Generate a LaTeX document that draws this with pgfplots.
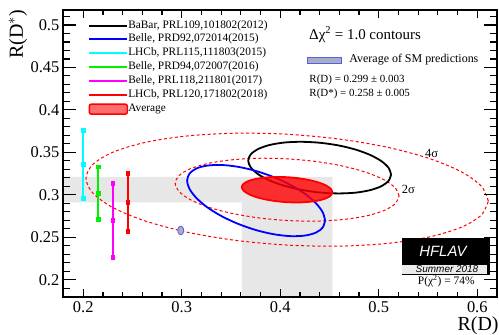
\documentclass[border=0pt]{standalone}
\usepackage{fontspec}
\setmainfont{Liberation Serif}
\newfontfamily\hfsans{Liberation Sans}
\usepackage{pgfplots}
\pgfplotsset{compat=1.18}

\definecolor{bandgray}{gray}{0.905}
\definecolor{smfill}{RGB}{165,175,195}
\definecolor{smdraw}{RGB}{90,90,235}
\definecolor{mygreen}{RGB}{0,240,0}
\definecolor{mycyan}{RGB}{0,255,255}
\definecolor{mymagenta}{RGB}{255,0,255}
\definecolor{myred}{RGB}{255,0,0}
\definecolor{myblue}{RGB}{0,0,255}
\definecolor{avgleg}{RGB}{255,110,110}
\definecolor{logogray}{gray}{0.92}

\begin{document}
\begin{tikzpicture}
\useasboundingbox (-63.5bp,-38.3bp) rectangle (435.5bp,296.7bp);
\begin{axis}[
  at={(0,0)}, anchor=south west,
  scale only axis, width=433.5bp, height=286.7bp,
  xmin=0.18, xmax=0.62, ymin=0.18, ymax=0.5176,
  axis on top,
  xtick={0.2,0.3,0.4,0.5,0.6},
  ytick={0.2,0.25,0.3,0.35,0.4,0.45,0.5},
  minor xtick={0.22,0.24,0.26,0.28,0.32,0.34,0.36,0.38,0.42,0.44,0.46,0.48,0.52,0.54,0.56,0.58},
  minor ytick={0.19,0.21,0.22,0.23,0.24,0.26,0.27,0.28,0.29,0.31,0.32,0.33,0.34,0.36,0.37,0.38,0.39,0.41,0.42,0.43,0.44,0.46,0.47,0.48,0.49,0.51},
  axis line style={line width=2bp},
  tick style={line width=1.2bp, black},
  xtick style={/pgfplots/major tick length=8bp, /pgfplots/minor tick length=5bp},
  ytick style={/pgfplots/major tick length=13bp, /pgfplots/minor tick length=6.5bp},
  /pgf/number format/assume math mode=true,
  ticklabel style={font=\fontsize{16.5}{18}\selectfont},
  yticklabel style={anchor=east, inner sep=0pt, xshift=-4bp},
  xticklabel style={anchor=north, inner sep=0pt, yshift=-5bp},
  xlabel={R(D)},
  xlabel style={font=\fontsize{20}{22}\selectfont, at={(axis description cs:1.004,-0.1015)}, anchor=east, inner sep=0pt},
  ylabel={R(D$^{*}$)},
  ylabel style={font=\fontsize{20}{22}\selectfont, at={(axis description cs:-0.105,1)}, anchor=east, inner sep=0pt},
  legend cell align=left,
  legend style={at={(axis description cs:0.0572,0.9651)}, anchor=north west, draw=none, fill=none,
    inner sep=0pt, outer sep=0pt, font=\fontsize{11.4}{12}\selectfont, row sep=2.9bp, column sep=0pt,
    nodes={inner sep=0pt, text height=8bp, text depth=3bp}},
  legend image code/.code={\draw[#1, line width=2bp] (0bp,0bp) -- (38bp,0bp);},
]
% gray bands (average +- 1 sigma)
\addplot[fill=bandgray, draw=none, forget plot] coordinates {
 (0.18,0.291) (0.361,0.291) (0.361,0.18) (0.453,0.18) (0.453,0.321) (0.18,0.321)} -- cycle;

% 4 sigma contour
\addplot[myred, dash pattern=on 3bp off 2.5bp, line width=1bp, smooth, forget plot] coordinates {
(0.6112,0.2927) (0.6042,0.3100) (0.5838,0.3271) (0.5514,0.3427) (0.5091,0.3559) (0.4599,0.3656)
(0.4070,0.3713) (0.3542,0.3725) (0.3049,0.3692) (0.2626,0.3616) (0.2302,0.3502) (0.2098,0.3358)
(0.2028,0.3193) (0.2098,0.3020) (0.2302,0.2849) (0.2626,0.2693) (0.3049,0.2561) (0.3542,0.2464)
(0.4070,0.2408) (0.4599,0.2395) (0.5091,0.2428) (0.5514,0.2504) (0.5838,0.2618) (0.6042,0.2762)
(0.6112,0.2927)};
% 2 sigma contour
\addplot[myred, dash pattern=on 3bp off 2.5bp, line width=1bp, smooth, forget plot] coordinates {
(0.5206,0.2986) (0.5167,0.3082) (0.5054,0.3177) (0.4873,0.3264) (0.4638,0.3337) (0.4364,0.3392)
(0.4070,0.3423) (0.3776,0.3430) (0.3502,0.3411) (0.3267,0.3369) (0.3086,0.3306) (0.2973,0.3226)
(0.2934,0.3134) (0.2973,0.3038) (0.3086,0.2943) (0.3267,0.2856) (0.3502,0.2783) (0.3776,0.2729)
(0.4070,0.2697) (0.4364,0.2690) (0.4638,0.2709) (0.4873,0.2751) (0.5054,0.2815) (0.5167,0.2894)
(0.5206,0.2986)};

% BaBar
\addplot[black, line width=1.8bp, smooth, forget plot] coordinates {
(0.5125,0.3238) (0.5100,0.3317) (0.5028,0.3395) (0.4913,0.3469) (0.4763,0.3533) (0.4588,0.3582)
(0.4400,0.3613) (0.4212,0.3624) (0.4038,0.3615) (0.3887,0.3585) (0.3772,0.3537) (0.3700,0.3475)
(0.3675,0.3402) (0.3700,0.3324) (0.3772,0.3245) (0.3887,0.3171) (0.4038,0.3108) (0.4212,0.3059)
(0.4400,0.3027) (0.4588,0.3016) (0.4763,0.3025) (0.4913,0.3055) (0.5028,0.3102) (0.5100,0.3165)
(0.5125,0.3238)};
% Belle PRD92
\addplot[myblue, line width=1.8bp, smooth, forget plot] coordinates {
(0.4455,0.2697) (0.4431,0.2795) (0.4361,0.2902) (0.4250,0.3012) (0.4105,0.3116) (0.3936,0.3207)
(0.3755,0.3280) (0.3574,0.3329) (0.3405,0.3351) (0.3260,0.3344) (0.3149,0.3310) (0.3079,0.3249)
(0.3055,0.3167) (0.3079,0.3069) (0.3149,0.2962) (0.3260,0.2852) (0.3405,0.2748) (0.3574,0.2657)
(0.3755,0.2584) (0.3936,0.2535) (0.4105,0.2513) (0.4250,0.2520) (0.4361,0.2554) (0.4431,0.2615)
(0.4455,0.2697)};
% Average (1 sigma)
\addplot[fill=myred, fill opacity=0.8, draw=myred, line width=1.8bp, smooth, forget plot] coordinates {
(0.4530,0.3030) (0.4514,0.3069) (0.4468,0.3108) (0.4395,0.3143) (0.4300,0.3172) (0.4189,0.3194)
(0.4070,0.3207) (0.3951,0.3210) (0.3840,0.3202) (0.3745,0.3185) (0.3672,0.3160) (0.3626,0.3127)
(0.3610,0.3090) (0.3626,0.3051) (0.3672,0.3013) (0.3745,0.2977) (0.3840,0.2948) (0.3951,0.2926)
(0.4070,0.2913) (0.4189,0.2910) (0.4300,0.2918) (0.4395,0.2935) (0.4468,0.2960) (0.4514,0.2993)
(0.4530,0.3030)};

% SM prediction
\addplot[fill=smfill, draw=smdraw, line width=0.8bp, smooth, forget plot] coordinates {
(0.3020,0.2580) (0.3016,0.2605) (0.3005,0.2623) (0.2990,0.2630) (0.2975,0.2623) (0.2964,0.2605)
(0.2960,0.2580) (0.2964,0.2555) (0.2975,0.2537) (0.2990,0.2530) (0.3005,0.2537) (0.3016,0.2555)
(0.3020,0.2580)};

% R(D*)-only measurements: lower end, central value, upper end
\addplot[mycyan, line width=2bp, mark=square*, mark size=1.9bp, mark options={fill=mycyan, draw=mycyan, line width=0.5bp}, forget plot]
  coordinates {(0.200,0.296) (0.200,0.336) (0.200,0.376)};
\addplot[mygreen, line width=2bp, mark=square*, mark size=1.9bp, mark options={fill=mygreen, draw=mygreen, line width=0.5bp}, forget plot]
  coordinates {(0.215,0.271) (0.215,0.302) (0.215,0.333)};
\addplot[mymagenta, line width=2bp, mark=square*, mark size=1.9bp, mark options={fill=mymagenta, draw=mymagenta, line width=0.5bp}, forget plot]
  coordinates {(0.230,0.226) (0.230,0.270) (0.230,0.314)};
\addplot[myred, line width=2bp, mark=square*, mark size=1.9bp, mark options={fill=myred, draw=myred, line width=0.5bp}, forget plot]
  coordinates {(0.2452,0.257) (0.2452,0.291) (0.2452,0.325)};

% legend
\addlegendimage{black}
\addlegendentry{BaBar, PRL109,101802(2012)}
\addlegendimage{myblue}
\addlegendentry{Belle, PRD92,072014(2015)}
\addlegendimage{mycyan}
\addlegendentry{LHCb, PRL115,111803(2015)}
\addlegendimage{mygreen}
\addlegendentry{Belle, PRD94,072007(2016)}
\addlegendimage{mymagenta}
\addlegendentry{Belle, PRL118,211801(2017)}
\addlegendimage{myred}
\addlegendentry{LHCb, PRL120,171802(2018)}
\addlegendimage{legend image code/.code={\draw[draw=myred, fill=avgleg, line width=1.5bp, rounded corners=2bp] (0bp,-5bp) rectangle (38bp,5bp);}}
\addlegendentry{Average}

% annotations
\node[anchor=base west, inner sep=0pt, font=\fontsize{15}{17}\selectfont] at (rel axis cs:0.5663,0.8988) {Δχ\textsuperscript{2} = 1.0 contours};
\draw[draw=smdraw, fill=smfill, line width=1bp] (rel axis cs:0.5624,0.8134) rectangle (rel axis cs:0.6418,0.8326);
\node[anchor=base west, inner sep=0pt, font=\fontsize{12}{14}\selectfont] at (rel axis cs:0.6592,0.8169) {Average of SM predictions};
\node[anchor=base west, inner sep=0pt, font=\fontsize{11}{13}\selectfont] at (rel axis cs:0.567,0.7471) {R(D) = 0.299 ± 0.003};
\node[anchor=base west, inner sep=0pt, font=\fontsize{11}{13}\selectfont] at (rel axis cs:0.567,0.6983) {R(D*) = 0.258 ± 0.005};
\node[inner sep=0pt, font=\fontsize{12.5}{14}\selectfont] at (axis cs:0.5537,0.3491) {4σ};
\node[inner sep=0pt, font=\fontsize{12.5}{14}\selectfont] at (axis cs:0.5300,0.3061) {2σ};

% HFLAV logo
\fill[black] (rel axis cs:0.7802,0.0757) rectangle (rel axis cs:0.9839,0.2037);
\fill[logogray] (rel axis cs:0.7820,0.0802) rectangle (rel axis cs:0.9776,0.1106);
\node[inner sep=0pt, text=white, font=\hfsans\itshape\fontsize{15}{17}\selectfont] at (rel axis cs:0.8754,0.1594) {HFLAV};
\node[inner sep=0pt, text=black, font=\hfsans\itshape\fontsize{10}{12}\selectfont] at (rel axis cs:0.8847,0.0949) {Summer 2018};
\node[inner sep=0pt, font=\fontsize{11.5}{13}\selectfont] at (rel axis cs:0.883,0.0548) {P(χ\textsuperscript{2}) = 74\%};
\end{axis}
\end{tikzpicture}
\end{document}
